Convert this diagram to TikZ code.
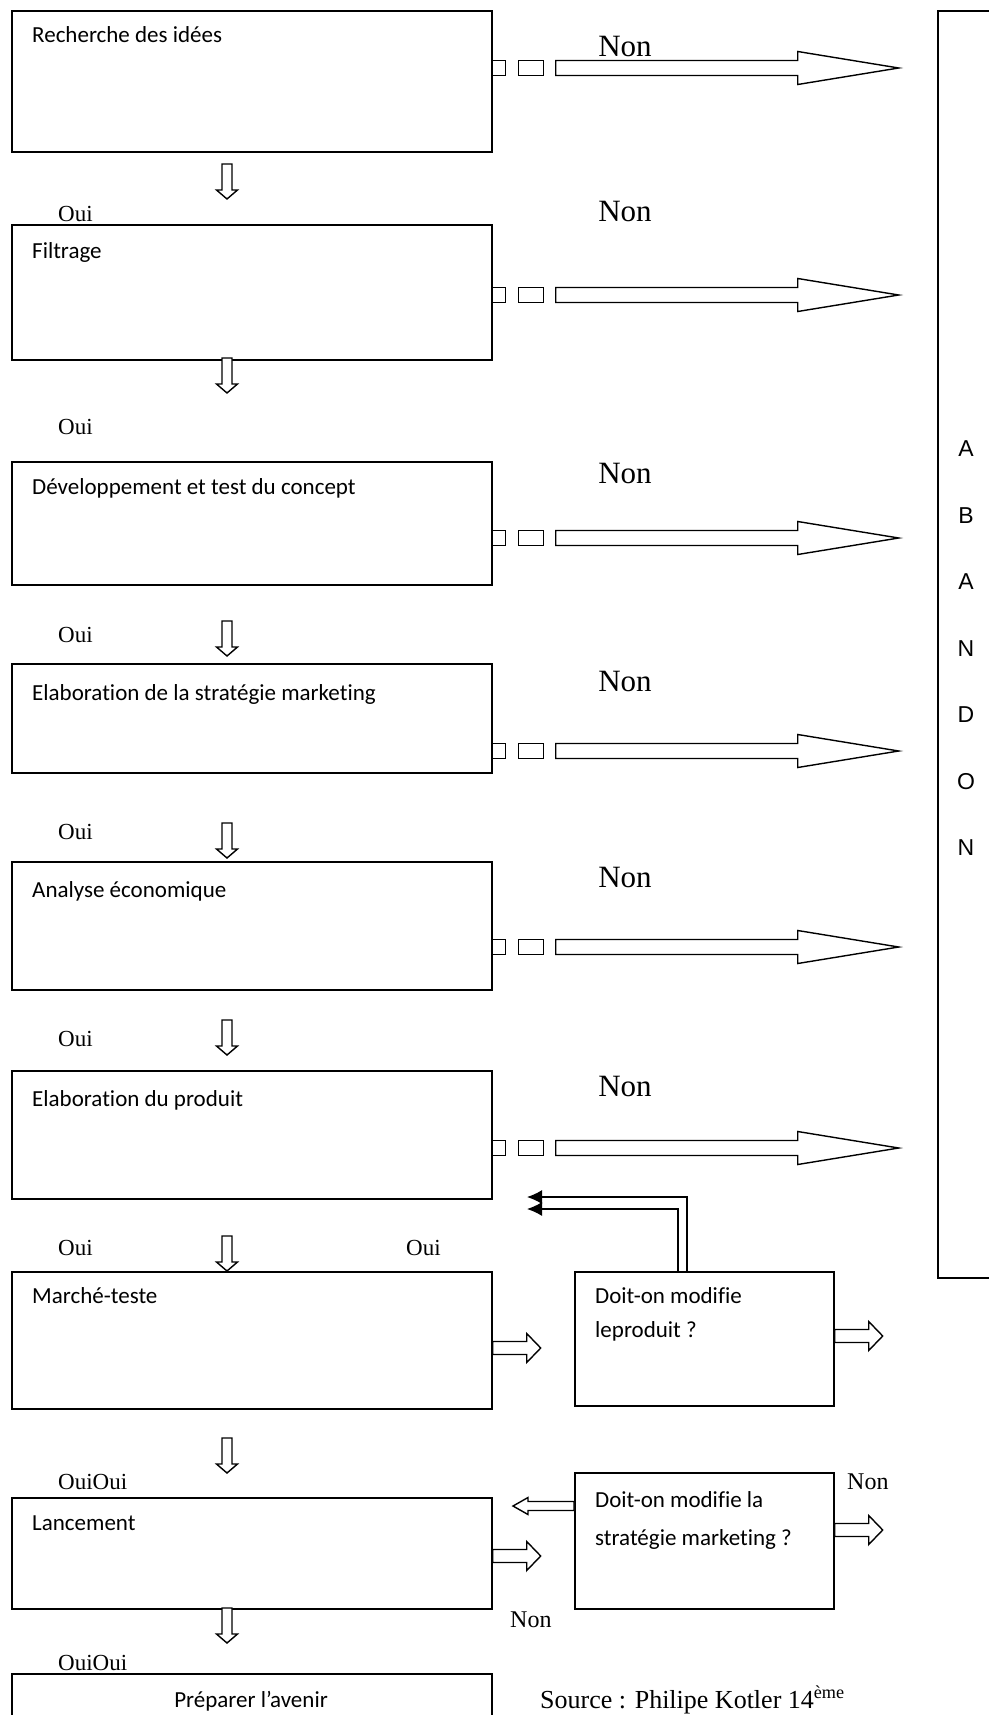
\documentclass[tikz,border=0pt]{standalone}
\usepackage{fontspec}
\setmainfont{Liberation Serif}
\newfontfamily\calibri[Ligatures=NoCommon]{Carlito}
\newfontfamily\arialfont{Liberation Sans}
\usetikzlibrary{arrows.meta, calc, positioning}

\tikzset{
  etape/.style={draw, line width=1.7pt, anchor=north west, minimum width=480pt, inner sep=0pt},
  question/.style={etape, minimum width=259pt},
  boxtext/.style={font=\calibri\fontsize{23}{28}\selectfont, anchor=base west, inner sep=0pt},
  ouitext/.style={font=\fontsize{23}{28}\selectfont, anchor=base west, inner sep=0pt},
  nontext/.style={font=\fontsize{31}{36}\selectfont, anchor=base, inner sep=0pt},
  petitnon/.style={font=\fontsize{24}{28}\selectfont, anchor=base west, inner sep=0pt},
  lettre/.style={font=\arialfont\fontsize{23}{28}\selectfont, inner sep=0pt},
  bloc/.style={draw, line width=1.4pt, fill=white, line join=miter},
  retour/.style={line width=1.4pt, -{Latex[length=15pt,width=14pt]}},
  pics/nonfleche/.style={code={
    \draw[bloc] (0,-7.5) rectangle (13,7.5);
    \draw[bloc] (26,-7.5) rectangle (51,7.5);
    \draw[bloc] (63,-7.5) -- (305,-7.5) -- (305,-16.5) -- (406,0) -- (305,16.5) -- (305,7.5) -- (63,7.5) -- cycle;
  }},
  pics/bas/.style={code={
    \draw[bloc] (-5,0) -- (-5,26) -- (-10.5,26) -- (0,35) -- (10.5,26) -- (5,26) -- (5,0) -- cycle;
  }},
  pics/droite/.style={code={
    \draw[bloc] (0,-6.5) -- (34,-6.5) -- (34,-14.5) -- (48,0) -- (34,14.5) -- (34,6.5) -- (0,6.5) -- cycle;
  }},
  pics/gauche/.style={code={
    \draw[bloc] (0,-4.5) -- (-46,-4.5) -- (-46,-8.5) -- (-61,0) -- (-46,8.5) -- (-46,4.5) -- (0,4.5) -- cycle;
  }}
}

\begin{document}
\begin{tikzpicture}[x=1pt, y=-1pt]
\useasboundingbox (0,0) rectangle (988,1715);

% etapes
\node[etape, minimum height=141pt] (idees) at (11,10) {};
\node[etape, minimum height=135pt] (filtrage) at (11,224) {};
\node[etape, minimum height=123pt] (concept) at (11,461) {};
\node[etape, minimum height=109pt] (strategie) at (11,663) {};
\node[etape, minimum height=128pt] (analyse) at (11,861) {};
\node[etape, minimum height=128pt] (produit) at (11,1070) {};
\node[etape, minimum height=137pt] (marche) at (11,1271) {};
\node[etape, minimum height=111pt] (lancement) at (11,1497) {};
\node[etape, minimum height=90pt] (avenir) at (11,1673) {};
\node[question, minimum height=134pt] (modprod) at (574,1271) {};
\node[question, minimum height=136pt] (modstrat) at (574,1472) {};
\node[etape, minimum width=80pt, minimum height=1267pt] (abandon) at (937,10) {};

\node[boxtext] (tidees) at (32,43) {Recherche des idées};
\node[boxtext] (tfiltrage) at (32,258) {Filtrage};
\node[boxtext] (tconcept) at (32,494) {Développement et test du concept};
\node[boxtext] (tstrategie) at (32,700) {Elaboration de la stratégie marketing};
\node[boxtext] (tanalyse) at (32,897) {Analyse économique};
\node[boxtext] (tproduit) at (32,1106) {Elaboration du produit};
\node[boxtext] (tmarche) at (32,1303) {Marché-teste};
\node[boxtext] (tlancement) at (32,1530) {Lancement};
\node[boxtext, anchor=base] (tavenir) at (251,1707) {Préparer l’avenir};
\node[boxtext] (tmodprod) at (595,1303) {Doit-on modifie};
\node[boxtext] (tmodprodb) at (595,1337) {leproduit ?};
\node[boxtext] (tmodstrat) at (595,1507) {Doit-on modifie la};
\node[boxtext] (tmodstratb) at (595,1545) {stratégie marketing ?};

% abandon
\foreach \l [count=\i] in {A,B,A,N,D,O,N}
  \node[lettre] (ab\i) at (966, 382.5+66.5*\i) {\l};

% non
\pic at (idees.east |- 0,68) {nonfleche};
\pic at (filtrage.east |- 0,295) {nonfleche};
\pic at (concept.east |- 0,538) {nonfleche};
\pic at (strategie.east |- 0,751) {nonfleche};
\pic at (analyse.east |- 0,947) {nonfleche};
\pic at (produit.east |- 0,1148) {nonfleche};
\foreach \y [count=\i] in {57,221,483,691,887,1096}
  \node[nontext] (non\i) at (625,\y) {Non};

% oui
\foreach \x in {164,358,621,823,1020,1236,1438,1608}
  \pic at (227,\x) {bas};
\foreach \y [count=\i] in {221,434,642,839,1046,1255}
  \node[ouitext] (oui\i) at (58,\y) {Oui};
\node[ouitext] (ouid) at (406,1255) {Oui};
\node[ouitext] (ouioui1) at (58,1489) {OuiOui};
\node[ouitext] (ouioui2) at (58,1670) {OuiOui};

% questions
\pic at (marche.east |- 0,1348) {droite};
\pic at (modprod.east |- 0,1336) {droite};
\pic at (lancement.east |- 0,1556) {droite};
\pic at (modstrat.east |- 0,1530) {droite};
\pic at (modstrat.west |- 0,1506) {gauche};
\coordinate (retoura) at (527,1197);
\coordinate (retourb) at (527,1209);
\draw[retour] (687,0 |- modprod.north) |- (retoura);
\draw[retour] (678,0 |- modprod.north) |- (retourb);
\node[petitnon] (nond) at (847,1489) {Non};
\node[petitnon] (nonb) at (510,1627) {Non};

\node[font=\fontsize{26}{30}\selectfont, anchor=base west, inner sep=0pt] (source) at (540,1708) {Source : Philipe Kotler 14\textsuperscript{ème}};
\end{tikzpicture}
\end{document}
